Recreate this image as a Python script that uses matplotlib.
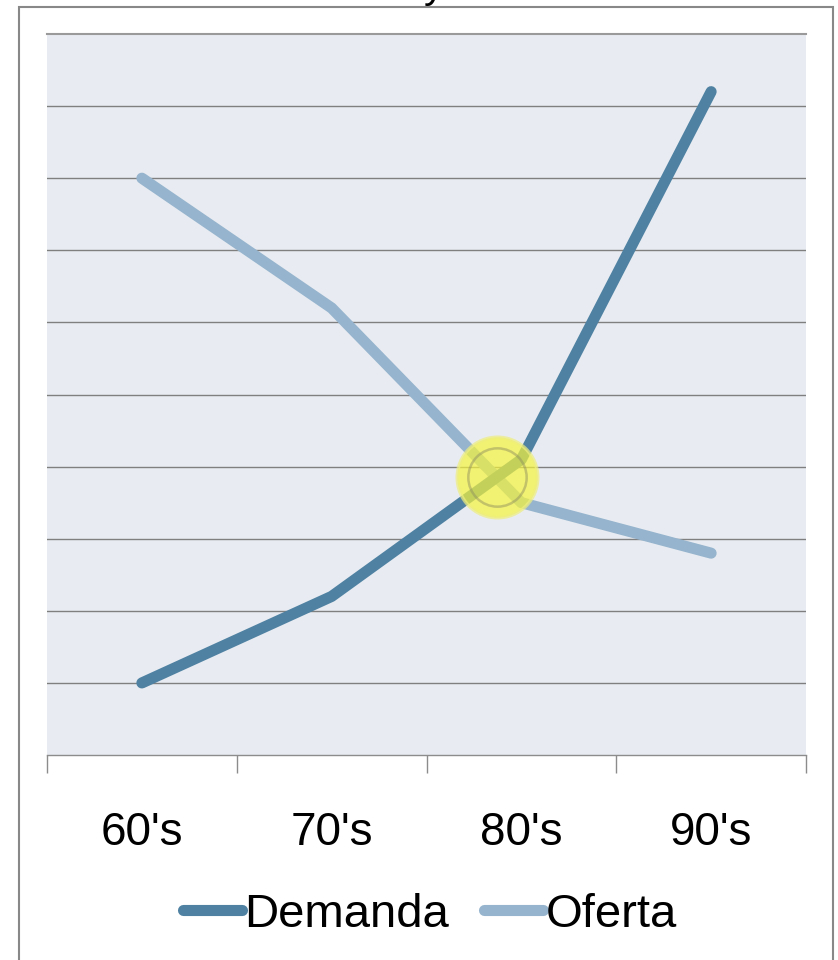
import numpy as np
import matplotlib.pyplot as plt
from matplotlib.patches import Rectangle

plt.rcParams['font.family'] = ['Liberation Sans', 'DejaVu Sans']

decadas = ["60's", "70's", "80's", "90's"]
demanda = [1.0, 2.2, 4.1, 9.2]
oferta = [8.0, 6.2, 3.5, 2.8]

col_demanda = '#4F81A2'
col_oferta = '#96B4CD'

x = np.arange(len(decadas))

# punto de equilibrio = cruce de las dos lineas
xs = np.linspace(0, 3, 3001)
diff = np.interp(xs, x, demanda) - np.interp(xs, x, oferta)
k = np.where(np.diff(np.sign(diff)))[0][0]
xc, yc = xs[k], np.interp(xs[k], x, demanda)

fig = plt.figure(figsize=(8.38, 9.6), dpi=100)
ax = fig.add_axes([0.0561, 0.2135, 0.9057, 0.7511])
ax.set_facecolor('#E8ECF2')

for v in range(1, 10):
    ax.axhline(v, color='#7F7F7F', lw=1.0, zorder=1)

ax.plot(x, demanda, color=col_demanda, lw=8, solid_capstyle='round',
        solid_joinstyle='round', label='Demanda', zorder=3)
ax.plot(x, oferta, color=col_oferta, lw=8, solid_capstyle='round',
        solid_joinstyle='round', label='Oferta', zorder=2)

# circulo amarillo en el equilibrio
ax.plot(xc, yc, 'o', ms=58, mfc='#F6F43C', mec='#EEEE80', mew=2.5, alpha=0.7, zorder=4)
ax.plot(xc, yc, 'o', ms=42, mfc='none', mec='#8A8A60', mew=1.8, alpha=0.45, zorder=5)

ax.set_xlim(-0.5, 3.5)
ax.set_ylim(0, 10)
ax.set_xticks(x)
ax.set_xticklabels(decadas, fontsize=33)
ax.set_xticks(np.arange(-0.5, 4, 1), minor=True)
ax.tick_params(axis='x', which='major', length=0, pad=40)
ax.tick_params(axis='x', which='minor', length=13, width=1, color='#8C8C8C')
ax.set_yticks([])

ax.spines['left'].set_visible(False)
ax.spines['right'].set_visible(False)
ax.spines['top'].set_color('#9A9A9A')
ax.spines['top'].set_linewidth(1.5)
ax.spines['bottom'].set_color('#8C8C8C')
ax.spines['bottom'].set_linewidth(1.0)

fig.legend(loc='center', bbox_to_anchor=(0.513, 45 / 960), ncol=2, frameon=False,
           fontsize=34, handlelength=1.25, handletextpad=0.05, columnspacing=0.75)

# titulo (queda casi todo fuera del marco)
fig.text(0.555, 1 + 2 / 960, 'Oferta y Demanda', ha='center', va='baseline', fontsize=29)

# marco del grafico
fig.patches.append(Rectangle((18.5 / 838, -0.02), (833 - 18.5) / 838, 0.02 + (960 - 6.5) / 960,
                             transform=fig.transFigure, fill=False, ec='#888888', lw=1.5))

fig.savefig('out.png', dpi=100)
